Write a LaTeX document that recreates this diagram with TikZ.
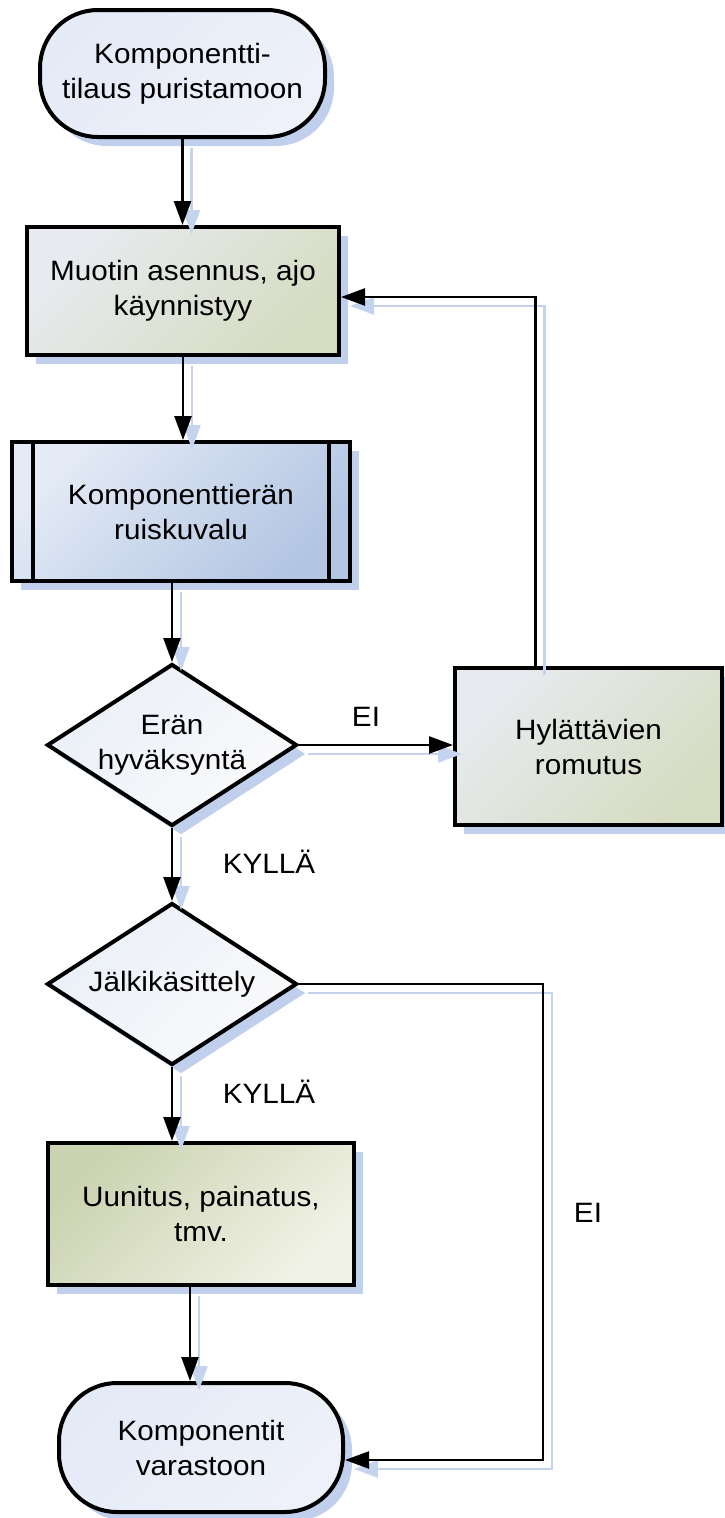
\documentclass[tikz,border=0pt]{standalone}
\usepackage{fontspec}
\setmainfont{Liberation Sans}[FakeStretch=1.06]
\usetikzlibrary{shapes.geometric,shadows,arrows.meta}

\definecolor{shadowblue}{RGB}{192,208,236}
\definecolor{lineshadow}{RGB}{196,212,238}
\definecolor{termA}{RGB}{228,235,247}
\definecolor{termB}{RGB}{238,241,249}
\definecolor{olA}{RGB}{231,235,240}
\definecolor{olB}{RGB}{214,220,194}
\definecolor{olC}{RGB}{203,211,176}
\definecolor{olD}{RGB}{241,242,230}
\definecolor{blA}{RGB}{228,235,246}
\definecolor{blB}{RGB}{178,197,226}
\definecolor{diA}{RGB}{234,239,248}
\definecolor{diB}{RGB}{250,250,250}

\newcommand\flowlinks[1]{%
  \draw[conn,#1] (t1.south) -- (t1.south |- b1.north);
  \draw[conn,#1] (b1.south) -- (b1.south |- b2.north);
  \draw[conn,#1] (b2.south -| d1.north) -- (d1.north);
  \draw[conn,#1] (d1.east) -- (d1.east -| hr.west);
  \draw[conn,#1] ([xshift=-53pt]hr.north) |- ([yshift=-6pt]b1.east);
  \draw[conn,#1] (d1.south) -- (d2.north);
  \draw[conn,#1] (d2.south) -- (d2.south |- b3.north);
  \draw[conn,#1] ([xshift=-11pt]b3.south) -- ([xshift=-11pt]t2.north);
  \draw[conn,#1] (d2.east) -| (rt) -- (rt -| t2.east);
}

\begin{document}
\begin{tikzpicture}[x=1pt,y=-1pt,
  every node/.style={font=\fontsize{28pt}{35pt}\selectfont, align=center, text=black},
  nodeshadow/.style={drop shadow={shadow xshift=9pt, shadow yshift=-9pt, fill=shadowblue, opacity=1}},
  term/.style={rectangle, rounded corners=58pt, draw, line width=4pt, inner sep=0pt,
    minimum width=285pt, minimum height=127pt, nodeshadow,
    top color=termA, bottom color=termB, shading angle=45},
  procbox/.style={rectangle, draw, line width=4pt, inner sep=0pt, nodeshadow,
    top color=olA, bottom color=olB, shading angle=45},
  procboxb/.style={rectangle, draw, line width=4pt, inner sep=0pt, nodeshadow,
    top color=olC, bottom color=olD, shading angle=45},
  predef/.style={rectangle, draw, line width=4pt, inner sep=0pt, nodeshadow,
    top color=blA, bottom color=blB, shading angle=45},
  decision/.style={diamond, draw, line width=4pt, inner sep=0pt, nodeshadow,
    minimum width=250pt, minimum height=162pt,
    top color=diA, bottom color=diB, shading angle=45},
  conn/.style={draw=black, line width=2.5pt, -{Triangle[length=24pt,width=17pt]}},
  shadowline/.style={draw=lineshadow, line width=2.5pt, -{Triangle[length=24pt,width=17pt,fill=lineshadow]}},
  lbl/.style={inner sep=0pt}
]
\useasboundingbox (0,0) rectangle (725,1518);

\node[term] (t1) at (182.5,73.5) {Komponentti-\\tilaus puristamoon};
\node[procbox, minimum width=312pt, minimum height=128pt] (b1) at (183,291) {Muotin asennus, ajo\\käynnistyy};
\node[predef, minimum width=338pt, minimum height=139pt] (b2) at (181,511.5) {Komponenttierän\\ruiskuvalu};
\draw[line width=4pt] ([xshift=23pt]b2.north west) -- ([xshift=23pt]b2.south west);
\draw[line width=4pt] ([xshift=-23pt]b2.north east) -- ([xshift=-23pt]b2.south east);
\node[decision, label={[align=center]center:Erän\\hyväksyntä}] (d1) at (172,745) {};
\node[procbox, minimum width=267pt, minimum height=157pt] (hr) at (588.5,746.5) {Hylättävien\\romutus};
\node[decision, label={[align=center]center:Jälkikäsittely}] (d2) at (172,984) {};
\node[procboxb, minimum width=306pt, minimum height=142pt] (b3) at (201,1214) {Uunitus, painatus,\\tmv.};
\node[term, minimum width=284pt, minimum height=129pt] (t2) at (201,1447.5) {Komponentit\\varastoon};
\coordinate (rt) at (543,1460);

\node[lbl] (ei1) at (366,717) {EI};
\node[lbl] (ky1) at (269,862) {KYLLÄ};
\node[lbl] (ky2) at (269,1092) {KYLLÄ};
\node[lbl] (ei2) at (588,1213) {EI};

\begin{scope}[transform canvas={shift={(9pt,-9pt)}}]
  \flowlinks{shadowline}
\end{scope}
\flowlinks{}
\end{tikzpicture}
\end{document}
